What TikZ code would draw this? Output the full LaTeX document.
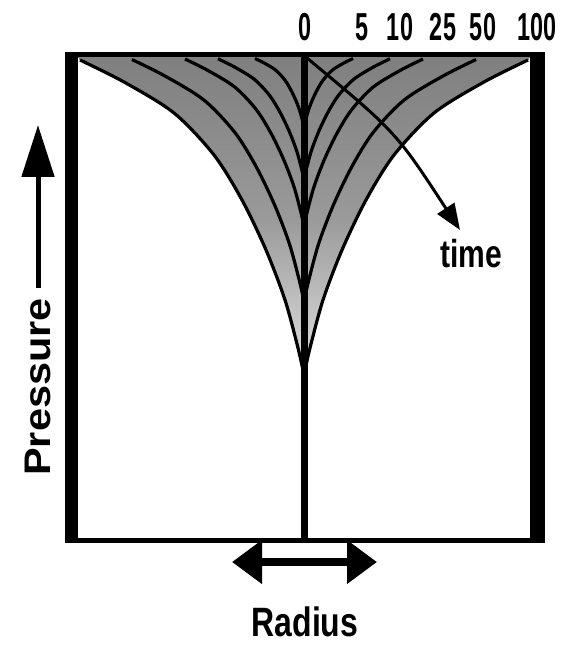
\documentclass[tikz,border=0pt]{standalone}
\usepackage{graphicx}
\usepackage{fontspec}
\setmainfont{Liberation Sans}
\usetikzlibrary{arrows.meta}

\newcommand{\narrowtext}[2]{\scalebox{#1}[1]{#2}}
\newcommand{\boldsize}[1]{\fontsize{#1}{#1}\selectfont\bfseries}

\begin{document}
\begin{tikzpicture}[x=1pt,y=-1pt,
    profile/.style={line width=3.2pt},
    numlabel/.style={font=\boldsize{39},inner sep=0pt},
    wordlabel/.style={font=\boldsize{39},inner sep=0pt}]
  \useasboundingbox (0,0) rectangle (577,652);

  % shaded area between the outer profiles
  \fill[top color=black!50,bottom color=black!12,middle color=black!40]
    (78,57) -- (530,57) -- (528,60)
    -- plot[smooth] coordinates {(528,60) (484,82) (434,113) (394,155) (366,200) (342,250) (323,300) (310,348) (304,375)}
    -- plot[smooth] coordinates {(304,375) (298,348) (285,300) (266,250) (242,200) (214,155) (174,113) (124,82) (80,60)}
    -- cycle;

  % pressure profiles, left and right
  \foreach \s in {1,0.768,0.531,0.384,0.219}
    \foreach \side in {1,-1}
      \draw[profile,shift={(304,58)},xscale=\side*\s,yscale=\s]
        plot[smooth] coordinates {(-224,2) (-180,24) (-130,55) (-90,97) (-62,142) (-38,192) (-19,242) (-6,290) (0,317)};

  % frame and well axis
  \draw[line width=5pt] (65,55) -- (545,55);
  \draw[line width=5pt] (65,540) -- (545,540);
  \fill (65,52.5) rectangle (78,542.5);
  \fill (530,52.5) rectangle (545,542.5);
  \draw[line width=7pt] (304,55) -- (304,540);

  % time labels
  \foreach \t/\x in {0/305,5/362,10/400,25/443,50/483,100/537}
    \node[numlabel] (t\t) at (\x,27) {\narrowtext{0.6}{\t}};

  % time arrow
  \node[wordlabel] (time) at (471,254) {\narrowtext{0.77}{time}};
  \coordinate (tstart) at (307,58);
  \coordinate (ttip) at (460,230);
  \draw[line width=3pt,-{Triangle[length=26pt,width=20pt]}] (tstart) .. controls (396,132) .. (ttip);

  % axes
  \node[wordlabel,rotate=90,font=\boldsize{37}] (pres) at (38,387) {\narrowtext{1.12}{Pressure}};
  \coordinate (ptip) at (38,125);
  \draw[line width=5pt,-{Triangle[length=52pt,width=32pt]},shorten <=10pt] (pres.east) -- (ptip);

  \node[wordlabel,font=\boldsize{41}] (radius) at (305,622) {\narrowtext{0.78}{Radius}};
  \coordinate (rl) at (232,562);
  \coordinate (rr) at (377,562);
  \draw[line width=8pt,{Triangle[length=30pt,width=42pt]}-{Triangle[length=30pt,width=42pt]}] (rl) -- (rr);
\end{tikzpicture}
\end{document}
